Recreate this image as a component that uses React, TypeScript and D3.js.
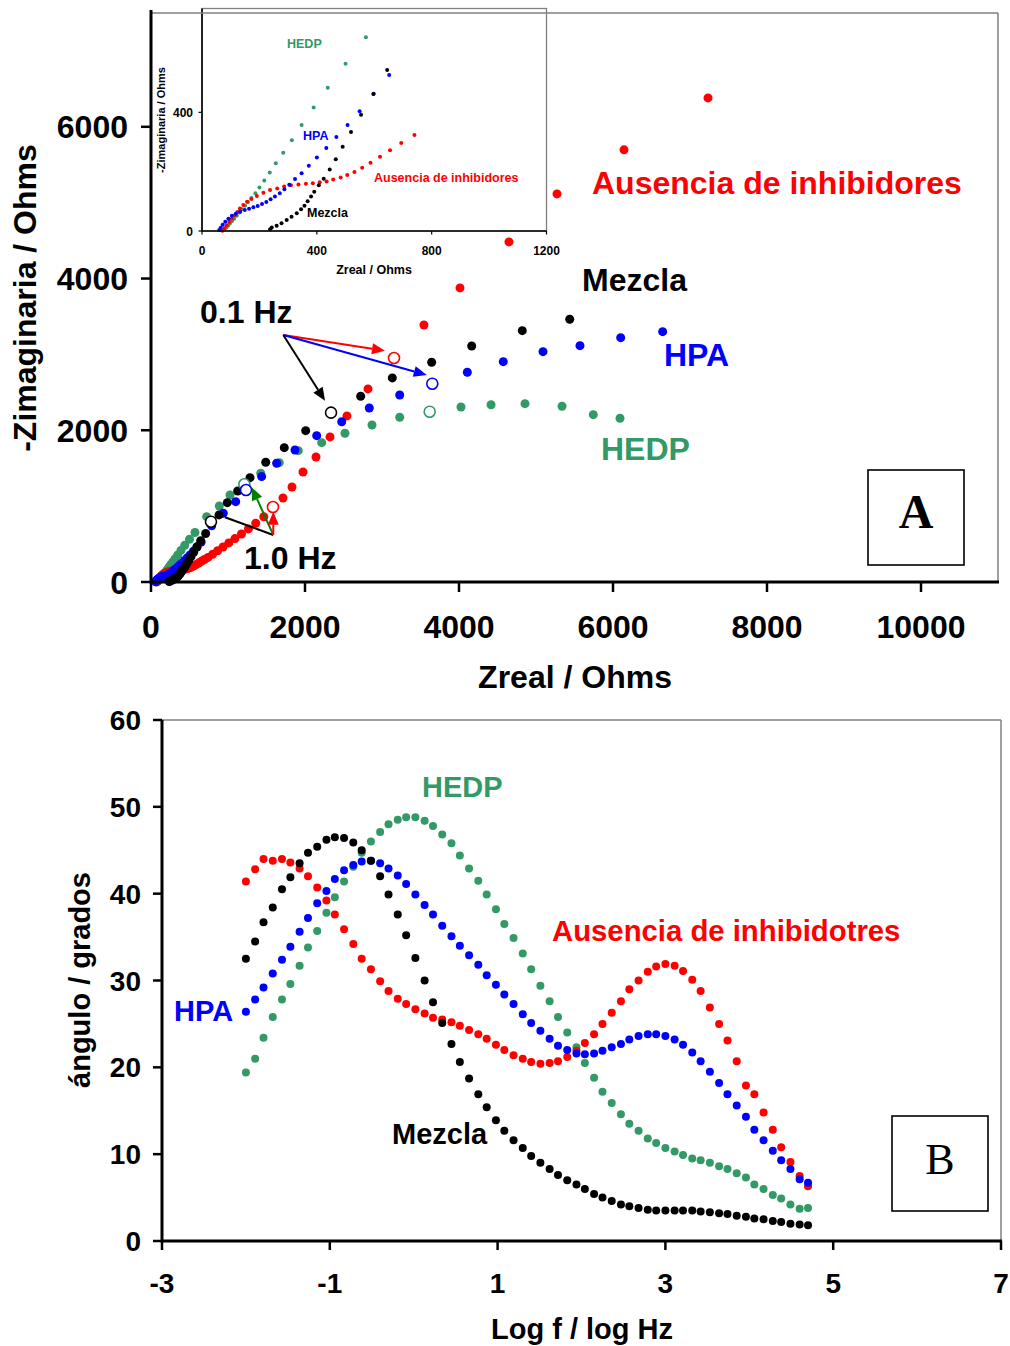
import React from 'react';
import * as d3 from 'd3';

const RED = '#FF0000';
const BLUE = '#0000FF';
const BLACK = '#000000';
const GREEN = '#339966';
const DKGREEN = '#008000';

// ---------- Panel A : Nyquist (Zreal, -Zimag) ----------
// high-frequency part (also shown in inset)
const ausenciaHF: [number, number][] = [
  [71, 1], [78, 9], [86, 19], [95, 30], [104, 41], [114, 53], [123, 64], [132, 76], [144, 88], [157, 99],
  [172, 108], [191, 118], [214, 129], [237, 138], [262, 143], [286, 150], [310, 154], [336, 157], [362, 159],
  [386, 161], [410, 164], [434, 167], [457, 174], [483, 180], [506, 189], [531, 199], [558, 213], [587, 230],
  [620, 250], [655, 272], [694, 297], [740, 324],
];
const hedpHF: [number, number][] = [
  [76, 3], [80, 8], [85, 12], [91, 18], [97, 25], [104, 33], [112, 41], [121, 51], [130, 62], [139, 73],
  [150, 85], [160, 98], [172, 111], [186, 127], [200, 147], [217, 170], [236, 197], [257, 228], [283, 264],
  [313, 306], [347, 357], [389, 416], [438, 483], [500, 564], [571, 653],
];
const hpaHF: [number, number][] = [
  [60, 3], [65, 11], [72, 21], [81, 31], [92, 41], [104, 51], [118, 58], [133, 65], [149, 71], [164, 75],
  [179, 80], [194, 84], [209, 91], [224, 98], [239, 107], [254, 116], [271, 127], [287, 141], [304, 156],
  [324, 175], [347, 195], [372, 220], [400, 248], [433, 280], [468, 317], [507, 357], [549, 404], [598, 463],
  [652, 526],
];
const mezclaHF: [number, number][] = [
  [237, 6], [243, 12], [260, 18], [277, 26], [295, 37], [312, 48], [330, 60], [345, 73], [357, 85], [368, 100],
  [380, 116], [391, 132], [407, 154], [424, 176], [445, 207], [466, 242], [490, 284], [519, 334], [554, 392],
  [597, 462], [645, 543],
];
// low-frequency part (main plot only)
const ausenciaLF: [number, number][] = [
  [800, 365], [865, 412], [935, 462], [1010, 515], [1090, 572], [1175, 633], [1265, 700], [1360, 775],
  [1465, 860], [1714, 1107], [1831, 1252], [1974, 1450], [2143, 1648], [2325, 1912], [2545, 2189],
  [2818, 2545], [3545, 3388], [4013, 3876], [4649, 4483], [5273, 5115], [6143, 5696], [7234, 6381],
];
const hedpLF: [number, number][] = [
  [723, 861], [887, 1002], [1026, 1147], [1425, 1433], [1666, 1573], [1913, 1731], [2217, 1837],
  [2519, 1960], [2870, 2070], [3230, 2171], [4026, 2307], [4416, 2337], [4857, 2351], [5338, 2316],
  [5744, 2206], [6091, 2158],
];
const hpaLF: [number, number][] = [
  [788, 740], [939, 906], [1100, 1059], [1437, 1389], [1632, 1565], [1870, 1740], [2152, 1929],
  [2477, 2113], [2835, 2294], [3230, 2465], [4108, 2765], [4575, 2904], [5091, 3036], [5571, 3115],
  [6100, 3221], [6645, 3300],
];
const mezclaLF: [number, number][] = [
  [710, 640], [883, 884], [991, 1046], [1126, 1200], [1286, 1375], [1490, 1578], [1731, 1771],
  [2009, 1995], [2723, 2448], [3134, 2690], [3645, 2897], [4165, 3111], [4822, 3313], [5438, 3463],
];
// open markers: 1.0 Hz and 0.1 Hz points
const ausenciaOpen: [number, number][] = [[1584, 989], [3156, 2953]];
const hedpOpen: [number, number][] = [[1212, 1288], [3619, 2245]];
const hpaOpen: [number, number][] = [[1234, 1213], [3653, 2614]];
const mezclaOpen: [number, number][] = [[779, 795], [2338, 2232]];

// annotation arrows (data coords)
const arrow01Origin: [number, number] = [1718, 3256];
const arrow10Origin: [number, number] = [1588, 620];

const nyqXTicks = [0, 2000, 4000, 6000, 8000, 10000];
const nyqYTicks = [0, 2000, 4000, 6000];
const insetXTicks = [0, 400, 800, 1200];
const insetYTicks = [0, 400];

// ---------- Panel B : Bode phase ----------
const logF = [
  -2.00, -1.89, -1.79, -1.68, -1.57, -1.47, -1.36, -1.26, -1.15, -1.04,
  -0.94, -0.83, -0.72, -0.62, -0.51, -0.40, -0.30, -0.19, -0.09, 0.02,
  0.13, 0.23, 0.34, 0.45, 0.55, 0.66, 0.77, 0.87, 0.98, 1.08,
  1.19, 1.30, 1.40, 1.51, 1.62, 1.72, 1.83, 1.94, 2.04, 2.15,
  2.25, 2.36, 2.47, 2.57, 2.68, 2.79, 2.89, 3.00, 3.11, 3.21,
  3.32, 3.42, 3.53, 3.64, 3.74, 3.85, 3.96, 4.06, 4.17, 4.28,
  4.38, 4.49, 4.60, 4.70,
];
const angAusencia = [
  41.4, 42.8, 44.0, 43.8, 44.0, 43.6, 42.9, 42.0, 40.7, 39.2,
  37.6, 35.9, 34.2, 32.5, 31.3, 29.9, 28.8, 27.9, 27.3, 26.7,
  26.2, 25.7, 25.5, 25.2, 24.8, 24.3, 23.8, 23.3, 22.6, 22.0,
  21.4, 21.0, 20.6, 20.4, 20.5, 20.7, 21.2, 21.9, 22.8, 23.8,
  25.0, 26.3, 27.6, 29.0, 30.0, 31.0, 31.6, 31.9, 31.7, 31.1,
  30.1, 28.8, 26.9, 25.0, 23.1, 20.7, 17.9, 16.9, 14.8, 12.8,
  10.8, 9.1, 7.5, 6.3,
];
const angHPA = [
  26.4, 27.8, 29.2, 30.8, 32.4, 33.9, 35.6, 37.2, 38.9, 40.3,
  41.7, 42.7, 43.3, 43.7, 43.8, 43.5, 42.9, 42.1, 41.1, 39.9,
  38.7, 37.6, 36.3, 35.1, 34.0, 32.9, 31.8, 30.6, 29.5, 28.4,
  27.3, 26.1, 25.1, 24.2, 23.3, 22.5, 22.0, 21.6, 21.5, 21.6,
  21.9, 22.3, 22.7, 23.2, 23.6, 23.8, 23.8, 23.6, 23.2, 22.6,
  21.7, 20.7, 19.5, 18.2, 16.9, 15.6, 14.3, 12.8, 11.6, 10.4,
  9.3, 8.3, 7.1, 6.7,
];
const angMezcla = [
  32.5, 34.5, 36.7, 38.4, 40.5, 41.9, 43.5, 44.7, 45.4, 46.2,
  46.5, 46.4, 45.9, 45.0, 43.8, 42.0, 39.9, 37.6, 35.2, 32.6,
  30.0, 27.5, 25.1, 22.7, 20.6, 18.7, 16.9, 15.4, 13.9, 12.7,
  11.6, 10.7, 9.8, 9.0, 8.3, 7.6, 7.0, 6.5, 6.0, 5.4,
  5.0, 4.6, 4.2, 4.0, 3.8, 3.6, 3.5, 3.5, 3.5, 3.5,
  3.5, 3.4, 3.3, 3.2, 3.1, 2.9, 2.8, 2.6, 2.5, 2.3,
  2.2, 2.0, 1.9, 1.8,
];
const angHEDP = [
  19.4, 21.0, 23.4, 25.8, 27.8, 29.6, 31.7, 33.8, 35.7, 37.8,
  39.6, 41.4, 43.1, 44.7, 46.0, 47.1, 48.0, 48.5, 48.8, 48.8,
  48.4, 47.8, 46.8, 45.8, 44.4, 42.9, 41.5, 39.9, 38.2, 36.5,
  34.9, 33.1, 31.3, 29.4, 27.6, 25.8, 24.0, 22.3, 20.5, 18.8,
  17.2, 15.9, 14.6, 13.5, 12.7, 11.8, 11.3, 10.7, 10.3, 9.9,
  9.5, 9.3, 9.0, 8.6, 8.3, 7.8, 7.3, 6.5, 6.0, 5.3,
  4.9, 4.2, 3.7, 3.8,
];
const bodeXTicks = [-3, -1, 1, 3, 5, 7];
const bodeYTicks = [0, 10, 20, 30, 40, 50, 60];

const SANS = '"Liberation Sans", Arial, Helvetica, sans-serif';
const SERIF = '"Liberation Serif", "Times New Roman", serif';

type Sc = d3.ScaleLinear<number, number>;

function Dots({ data, x, y, r, fill }: { data: [number, number][]; x: Sc; y: Sc; r: number; fill: string }) {
  return (
    <g>
      {data.map((d, i) => (
        <circle key={i} cx={x(d[0])} cy={y(d[1])} r={r} fill={fill} />
      ))}
    </g>
  );
}

function OpenDots({ data, x, y, r, stroke }: { data: [number, number][]; x: Sc; y: Sc; r: number; stroke: string }) {
  return (
    <g>
      {data.map((d, i) => (
        <circle key={i} cx={x(d[0])} cy={y(d[1])} r={r} fill="white" stroke={stroke} strokeWidth={1.6} />
      ))}
    </g>
  );
}

function Arrow({ x1, y1, x2, y2, color, head = true }: { x1: number; y1: number; x2: number; y2: number; color: string; head?: boolean }) {
  const a = Math.atan2(y2 - y1, x2 - x1);
  const L = 13;
  const W = 5.5;
  const bx = x2 - L * Math.cos(a);
  const by = y2 - L * Math.sin(a);
  const p1 = [bx + W * Math.sin(a), by - W * Math.cos(a)];
  const p2 = [bx - W * Math.sin(a), by + W * Math.cos(a)];
  return (
    <g>
      <line x1={x1} y1={y1} x2={head ? bx : x2} y2={head ? by : y2} stroke={color} strokeWidth={2} />
      {head && <polygon points={`${x2},${y2} ${p1[0]},${p1[1]} ${p2[0]},${p2[1]}`} fill={color} />}
    </g>
  );
}

export default function App() {
  // Panel A scales
  const ax = d3.scaleLinear().domain([0, 11000]).range([151, 998]);
  const ay = d3.scaleLinear().domain([0, 7500]).range([582, 13]);
  // inset scales
  const ix = d3.scaleLinear().domain([0, 1200]).range([202, 546.5]);
  const iy = d3.scaleLinear().domain([0, 750]).range([231, 8.5]);
  // Panel B scales
  const bx = d3.scaleLinear().domain([-3, 7]).range([162, 1001]);
  const by = d3.scaleLinear().domain([0, 60]).range([1241, 720]);

  const bode = (vals: number[]): [number, number][] => vals.map((v, i) => [logF[i], v]);

  const o01 = arrow01Origin;
  const o10 = arrow10Origin;

  return (
    <svg
      width={1010}
      height={1346}
      style={{ position: 'absolute', left: 0, top: 0, background: 'white' }}
      fontFamily={SANS}
      fontWeight="bold"
    >
      <rect x={0} y={0} width={1010} height={1346} fill="white" />

      {/* ================= PANEL A ================= */}
      <Dots data={[...hedpHF, ...hedpLF]} x={ax} y={ay} r={4.5} fill={GREEN} />
      <Dots data={[...ausenciaHF, ...ausenciaLF]} x={ax} y={ay} r={4.5} fill={RED} />
      <Dots data={[...hpaHF, ...hpaLF]} x={ax} y={ay} r={4.5} fill={BLUE} />
      <Dots data={[...mezclaHF, ...mezclaLF]} x={ax} y={ay} r={4.5} fill={BLACK} />
      <OpenDots data={hedpOpen} x={ax} y={ay} r={5.5} stroke={GREEN} />
      <OpenDots data={ausenciaOpen} x={ax} y={ay} r={5.5} stroke={RED} />
      <OpenDots data={hpaOpen} x={ax} y={ay} r={5.5} stroke={BLUE} />
      <OpenDots data={mezclaOpen} x={ax} y={ay} r={5.5} stroke={BLACK} />

      {/* arrows 0.1 Hz */}
      <Arrow x1={ax(o01[0])} y1={ay(o01[1])} x2={ax(3039)} y2={ay(3049)} color={RED} />
      <Arrow x1={ax(o01[0])} y1={ay(o01[1])} x2={ax(3581)} y2={ay(2729)} color={BLUE} />
      <Arrow x1={ax(o01[0])} y1={ay(o01[1])} x2={ax(2260)} y2={ay(2390)} color={BLACK} />
      {/* arrows 1.0 Hz */}
      <Arrow x1={ax(o10[0])} y1={ay(o10[1])} x2={ax(961)} y2={ay(853)} color={BLACK} head={false} />
      <Arrow x1={ax(o10[0])} y1={ay(o10[1])} x2={ax(1308)} y2={ay(1249)} color={DKGREEN} />
      <Arrow x1={ax(o10[0])} y1={ay(o10[1])} x2={ax(1588)} y2={ay(927)} color={RED} />

      {/* inset */}
      <g>
        <rect x={ix(0)} y={iy(750)} width={ix(1200) - ix(0)} height={iy(0) - iy(750)} fill="white" stroke="#808080" strokeWidth={1.3} />
        <Dots data={hedpHF} x={ix} y={iy} r={2} fill={GREEN} />
        <Dots data={ausenciaHF} x={ix} y={iy} r={2} fill={RED} />
        <Dots data={hpaHF} x={ix} y={iy} r={2} fill={BLUE} />
        <Dots data={mezclaHF} x={ix} y={iy} r={2} fill={BLACK} />
        <line x1={ix(0)} y1={iy(0)} x2={ix(1200)} y2={iy(0)} stroke="black" strokeWidth={1.6} />
        <line x1={ix(0)} y1={iy(0)} x2={ix(0)} y2={iy(750)} stroke="black" strokeWidth={1.6} />
        {insetXTicks.map((t) => (
          <g key={t}>
            <line x1={ix(t)} x2={ix(t)} y1={iy(0)} y2={iy(0) + 3.5} stroke="black" strokeWidth={1.2} />
            <text x={ix(t)} y={255} fontSize={12} textAnchor="middle">{t}</text>
          </g>
        ))}
        {insetYTicks.map((t) => (
          <g key={t}>
            <line x1={ix(0) - 3.5} x2={ix(0)} y1={iy(t)} y2={iy(t)} stroke="black" strokeWidth={1.2} />
            <text x={193} y={iy(t) + 4.5} fontSize={12} textAnchor="end">{t}</text>
          </g>
        ))}
        <text x={374} y={274} fontSize={12.5} textAnchor="middle">Zreal / Ohms</text>
        <text transform="translate(165,120) rotate(-90)" fontSize={11} textAnchor="middle">-Zimaginaria / Ohms</text>
        <text x={287} y={48} fontSize={12.5} fill={GREEN}>HEDP</text>
        <text x={303} y={140} fontSize={12.5} fill={BLUE}>HPA</text>
        <text x={374} y={182} fontSize={12.5} fill={RED}>Ausencia de inhibidores</text>
        <text x={307} y={217} fontSize={12.5} fill={BLACK}>Mezcla</text>
      </g>

      {/* frame A */}
      <line x1={ax(0)} y1={ay(7500)} x2={ax(11000)} y2={ay(7500)} stroke="#808080" strokeWidth={1.5} />
      <line x1={ax(11000)} y1={ay(7500)} x2={ax(11000)} y2={ay(0)} stroke="#808080" strokeWidth={1.5} />
      <line x1={ax(0)} y1={ay(0)} x2={ax(11000) + 1} y2={ay(0)} stroke="black" strokeWidth={3} />
      <line x1={ax(0)} y1={ay(0) + 1.5} x2={ax(0)} y2={10} stroke="black" strokeWidth={3} />
      {nyqXTicks.map((t) => (
        <g key={t}>
          <line x1={ax(t)} x2={ax(t)} y1={ay(0)} y2={ay(0) + 10} stroke="black" strokeWidth={2.5} />
          <text x={ax(t)} y={638} fontSize={32} textAnchor="middle">{t}</text>
        </g>
      ))}
      {nyqYTicks.map((t) => (
        <g key={t}>
          <line x1={ax(0) - 10} x2={ax(0)} y1={ay(t)} y2={ay(t)} stroke="black" strokeWidth={2.5} />
          <text x={128} y={ay(t) + 11.5} fontSize={32} textAnchor="end">{t}</text>
        </g>
      ))}
      <text x={575} y={688} fontSize={32} textAnchor="middle">Zreal / Ohms</text>
      <text transform="translate(36,298) rotate(-90)" fontSize={32} textAnchor="middle">-Zimaginaria / Ohms</text>

      <text x={592} y={194} fontSize={32} fill={RED}>Ausencia de inhibidores</text>
      <text x={582} y={291} fontSize={32} fill={BLACK}>Mezcla</text>
      <text x={664} y={366} fontSize={32} fill={BLUE}>HPA</text>
      <text x={601} y={460} fontSize={32} fill={GREEN}>HEDP</text>
      <text x={200} y={323} fontSize={32} fill={BLACK}>0.1 Hz</text>
      <text x={244} y={569} fontSize={32} fill={BLACK}>1.0 Hz</text>

      <rect x={868} y={470} width={96} height={95} fill="white" stroke="black" strokeWidth={1.6} />
      <text x={916} y={528} fontSize={48} fontFamily={SERIF} fontWeight="bold" textAnchor="middle">A</text>

      {/* ================= PANEL B ================= */}
      <Dots data={bode(angHEDP)} x={bx} y={by} r={4} fill={GREEN} />
      <Dots data={bode(angAusencia)} x={bx} y={by} r={4} fill={RED} />
      <Dots data={bode(angHPA)} x={bx} y={by} r={4} fill={BLUE} />
      <Dots data={bode(angMezcla)} x={bx} y={by} r={4} fill={BLACK} />

      <line x1={bx(-3)} y1={by(60)} x2={bx(7)} y2={by(60)} stroke="#808080" strokeWidth={1.5} />
      <line x1={bx(7)} y1={by(60)} x2={bx(7)} y2={by(0)} stroke="#808080" strokeWidth={1.5} />
      <line x1={bx(-3)} y1={by(0)} x2={bx(7) + 1} y2={by(0)} stroke="black" strokeWidth={3} />
      <line x1={bx(-3)} y1={by(0) + 1.5} x2={bx(-3)} y2={by(60)} stroke="black" strokeWidth={3} />
      {bodeXTicks.map((t) => (
        <g key={t}>
          <line x1={bx(t)} x2={bx(t)} y1={by(0)} y2={by(0) + 9} stroke="black" strokeWidth={2.5} />
          <text x={bx(t)} y={1293} fontSize={28} textAnchor="middle">{t}</text>
        </g>
      ))}
      {bodeYTicks.map((t) => (
        <g key={t}>
          <line x1={bx(-3) - 9} x2={bx(-3)} y1={by(t)} y2={by(t)} stroke="black" strokeWidth={2.5} />
          <text x={141} y={by(t) + 10} fontSize={28} textAnchor="end">{t}</text>
        </g>
      ))}
      <text x={582} y={1339} fontSize={29} textAnchor="middle">Log f / log Hz</text>
      <text transform="translate(90,980) rotate(-90)" fontSize={29} textAnchor="middle">ángulo / grados</text>

      <text x={422} y={797} fontSize={29} fill={GREEN}>HEDP</text>
      <text x={552} y={941} fontSize={29.3} fill={RED}>Ausencia de inhibidotres</text>
      <text x={174} y={1021} fontSize={29} fill={BLUE}>HPA</text>
      <text x={392} y={1144} fontSize={29} fill={BLACK}>Mezcla</text>

      <rect x={892} y={1116} width={96} height={95} fill="white" stroke="black" strokeWidth={1.6} />
      <text x={940} y={1174} fontSize={44} fontFamily={SERIF} fontWeight="normal" textAnchor="middle">B</text>
    </svg>
  );
}
